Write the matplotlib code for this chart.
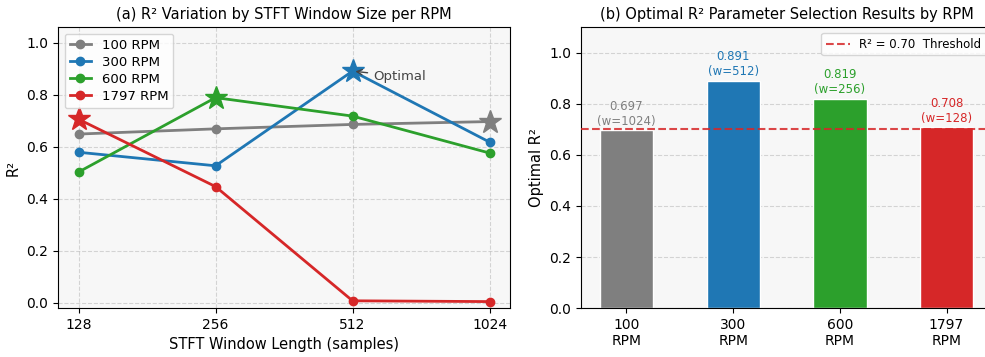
import matplotlib.pyplot as plt
import numpy as np

# window sizes and R² per RPM
windows = ['128', '256', '512', '1024']
rpm_labels = ['100 RPM', '300 RPM', '600 RPM', '1797 RPM']
r2_100 = [0.649, 0.669, 0.686, 0.697]
r2_300 = [0.579, 0.527, 0.891, 0.618]
r2_600 = [0.503, 0.789, 0.718, 0.576]
r2_1797 = [0.706, 0.447, 0.008, 0.005]
best_idx = [3, 2, 1, 0]

# optimal results
bar_labels = ['100\nRPM', '300\nRPM', '600\nRPM', '1797\nRPM']
best_r2 = [0.697, 0.891, 0.819, 0.708]
best_w = [1024, 512, 256, 128]
threshold = 0.70

colors = ['#7f7f7f', '#1f77b4', '#2ca02c', '#d62728']

fig = plt.figure(figsize=(9.85, 3.57), dpi=100)
ax1 = fig.add_axes([0.0589, 0.137, 0.459, 0.787])
ax2 = fig.add_axes([0.590, 0.137, 0.417, 0.787])

# --- (a) line chart ---
x = np.arange(len(windows))
for vals, lab, c, bi in zip([r2_100, r2_300, r2_600, r2_1797], rpm_labels, colors, best_idx):
    ax1.plot(x, vals, marker='o', color=c, linewidth=2, markersize=6, label=lab)
    ax1.plot(x[bi], vals[bi], marker='*', color=c, markersize=17, linestyle='none')

ax1.annotate('Optimal', xy=(x[2], r2_300[2]), xytext=(x[2] + 0.15, r2_300[2] - 0.02),
             fontsize=9.5, color='#444444', va='center',
             arrowprops=dict(arrowstyle='->', color='#444444', lw=1))

ax1.set_xticks(x)
ax1.set_xticklabels(windows)
ax1.set_ylim(-0.02, 1.06)
ax1.set_yticks([0.0, 0.2, 0.4, 0.6, 0.8, 1.0])
ax1.set_xlabel('STFT Window Length (samples)', fontsize=10.5)
ax1.set_ylabel('R²', fontsize=10.5)
ax1.set_title('(a) R² Variation by STFT Window Size per RPM', fontsize=10.5)
ax1.set_facecolor('#f7f7f7')
ax1.grid(True, linestyle='--', alpha=0.5)
ax1.legend(loc='upper left', fontsize=9.5, handlelength=1.6, borderpad=0.4, labelspacing=0.3)

# --- (b) bar chart ---
xb = np.arange(len(bar_labels))
ax2.bar(xb, best_r2, width=0.5, color=colors, edgecolor='white', zorder=2)
for xi, v, w, c in zip(xb, best_r2, best_w, colors):
    ax2.text(xi, v + 0.01, f'{v:.3f}\n(w={w})', ha='center', va='bottom', fontsize=8.5, color=c)
ax2.axhline(threshold, color='#d62728', linestyle='--', linewidth=1.5, alpha=0.85,
            label=f'R² = {threshold:.2f}  Threshold', zorder=3)

ax2.set_xticks(xb)
ax2.set_xticklabels(bar_labels, fontsize=10)
ax2.set_ylim(0, 1.1)
ax2.set_yticks([0.0, 0.2, 0.4, 0.6, 0.8, 1.0])
ax2.set_ylabel('Optimal R²', fontsize=10.5)
ax2.set_title('(b) Optimal R² Parameter Selection Results by RPM', fontsize=10.5)
ax2.set_facecolor('#f7f7f7')
ax2.grid(True, axis='y', linestyle='--', alpha=0.5, zorder=0)
ax2.set_axisbelow(True)
ax2.legend(loc='upper right', fontsize=8.5)

fig.savefig('out.png', dpi=100)
